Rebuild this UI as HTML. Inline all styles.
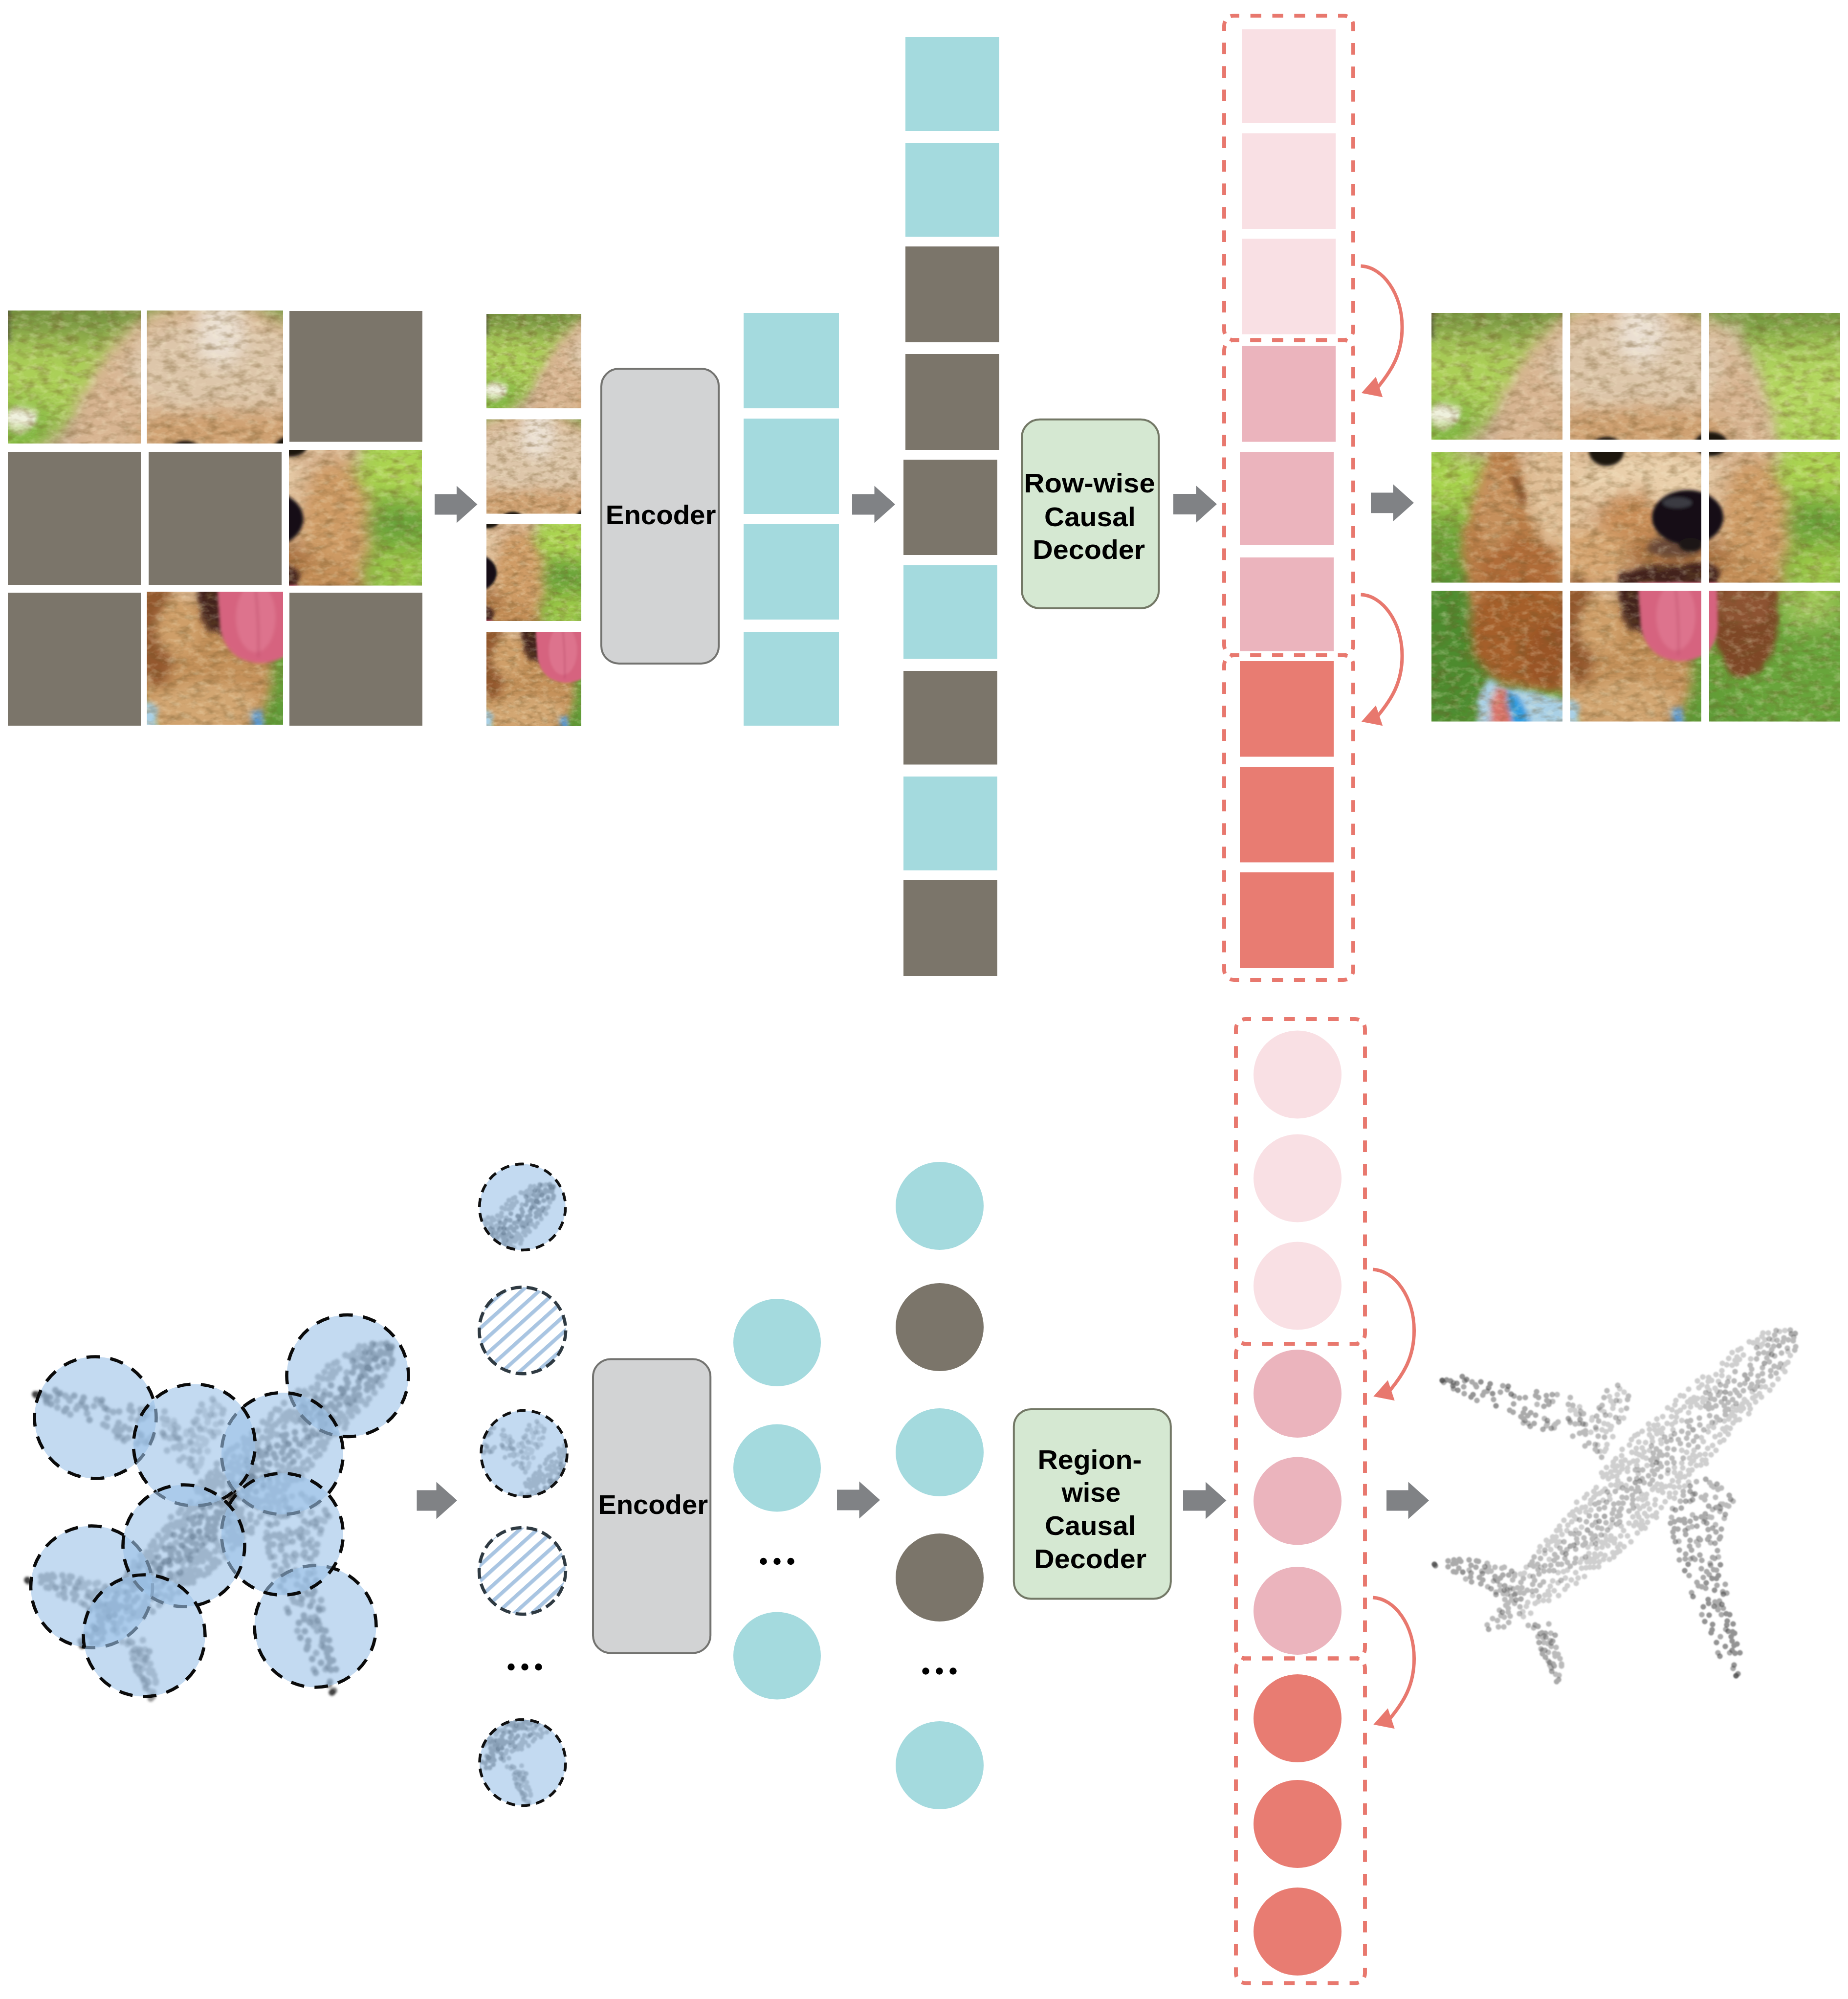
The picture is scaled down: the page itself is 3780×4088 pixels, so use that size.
<!DOCTYPE html>
<html><head><meta charset="utf-8"><title>Row-wise / Region-wise Causal Decoder</title>
<style>
html,body{margin:0;padding:0;background:#fff}
body{width:3780px;height:4088px;overflow:hidden}
svg{display:block}
text{font-family:"Liberation Sans",sans-serif;font-weight:700;fill:#000;text-anchor:middle}
</style></head><body>
<svg width="3780" height="4088" viewBox="0 0 3780 4088">
<defs>
<linearGradient id="dgbg" x1="0" y1="0" x2="0" y2="1"><stop offset="0" stop-color="#6d8c3d"/><stop offset="0.045" stop-color="#7f9f43"/><stop offset="0.11" stop-color="#a6cc55"/><stop offset="0.42" stop-color="#a0cc4e"/><stop offset="0.62" stop-color="#74ac3b"/><stop offset="1" stop-color="#5c9836"/></linearGradient><filter id="db30" x="-30%" y="-30%" width="160%" height="160%"><feGaussianBlur stdDeviation="30"/></filter><filter id="db16" x="-30%" y="-30%" width="160%" height="160%"><feGaussianBlur stdDeviation="16"/></filter><filter id="db10" x="-30%" y="-30%" width="160%" height="160%"><feGaussianBlur stdDeviation="10"/></filter><filter id="db6" x="-30%" y="-30%" width="160%" height="160%"><feGaussianBlur stdDeviation="6"/></filter><filter id="db3" x="-30%" y="-30%" width="160%" height="160%"><feGaussianBlur stdDeviation="3"/></filter><filter id="db15" x="-30%" y="-30%" width="160%" height="160%"><feGaussianBlur stdDeviation="1.5"/></filter><filter id="dwarp" x="-5%" y="-5%" width="110%" height="110%"><feTurbulence type="fractalNoise" baseFrequency="0.022" numOctaves="2" seed="11" result="n"/><feDisplacementMap in="SourceGraphic" in2="n" scale="16" xChannelSelector="R" yChannelSelector="G"/></filter><filter id="dtexd" x="0" y="0" width="100%" height="100%"><feTurbulence type="fractalNoise" baseFrequency="0.035 0.07" numOctaves="3" seed="4" result="n"/><feColorMatrix in="n" type="matrix" values="0 0 0 0 0.16  0 0 0 0 0.09  0 0 0 0 0.02  1.0 0 0 0 -0.44"/></filter><filter id="dtexl" x="0" y="0" width="100%" height="100%"><feTurbulence type="fractalNoise" baseFrequency="0.05 0.08" numOctaves="3" seed="23" result="n"/><feColorMatrix in="n" type="matrix" values="0 0 0 0 1  0 0 0 0 0.95  0 0 0 0 0.7  0 0.7 0 0 -0.33"/></filter><g id="dog"><g filter="url(#dwarp)"><rect x="-40" y="-40" width="920" height="920" fill="url(#dgbg)"/><g filter="url(#db30)"><ellipse cx="735" cy="150" rx="150" ry="100" fill="#b3d75e"/><ellipse cx="700" cy="16" rx="220" ry="20" fill="#6b8f3d"/><ellipse cx="700" cy="70" rx="200" ry="12" fill="#88ad49"/><ellipse cx="120" cy="16" rx="200" ry="18" fill="#6c893c"/><ellipse cx="110" cy="52" rx="120" ry="12" fill="#86994a"/><ellipse cx="95" cy="125" rx="130" ry="70" fill="#acd059"/><ellipse cx="30" cy="235" rx="75" ry="55" fill="#7db23f"/><ellipse cx="40" cy="340" rx="70" ry="60" fill="#a8d44e"/><ellipse cx="30" cy="480" rx="60" ry="70" fill="#6aa239"/><ellipse cx="35" cy="700" rx="110" ry="170" fill="#4d8b2f"/><ellipse cx="795" cy="320" rx="70" ry="50" fill="#aed751"/><ellipse cx="785" cy="430" rx="90" ry="50" fill="#65a037"/><ellipse cx="795" cy="520" rx="70" ry="40" fill="#a5d049"/><ellipse cx="760" cy="735" rx="130" ry="130" fill="#68a53a"/><ellipse cx="775" cy="600" rx="60" ry="28" fill="#b6d76b"/></g><g filter="url(#db16)"><polygon points="262,34 340,30 340,300 40,300 92,245 185,135" fill="#c6a98e"/><polygon points="560,20 625,20 668,120 715,300 560,300" fill="#cdbb9c"/></g><g filter="url(#db16)"><ellipse cx="414" cy="300" rx="286" ry="335" fill="#d8b592"/><ellipse cx="420" cy="105" rx="185" ry="95" fill="#ddc6aa"/><ellipse cx="428" cy="30" rx="46" ry="75" fill="#ebe0d3"/><ellipse cx="430" cy="238" rx="175" ry="50" fill="#cfa172"/><ellipse cx="250" cy="385" rx="70" ry="120" fill="#e0be96"/><ellipse cx="440" cy="340" rx="150" ry="60" fill="#e9cfab"/><ellipse cx="410" cy="425" rx="70" ry="60" fill="#c98e58"/><ellipse cx="330" cy="500" rx="80" ry="60" fill="#d5a470"/><ellipse cx="660" cy="440" rx="72" ry="145" fill="#cf9c66"/><ellipse cx="505" cy="498" rx="115" ry="40" fill="#a9713f"/><ellipse cx="645" cy="545" rx="80" ry="40" fill="#c48f58"/></g><g filter="url(#db10)"><path d="M118 280L170 276Q190 340 188 380Q215 450 262 536L300 600L300 770L200 772L118 748L86 683L72 568L62 463L92 353Z" fill="#b97d47"/><ellipse cx="130" cy="400" rx="40" ry="90" fill="#c6905b"/><ellipse cx="185" cy="520" rx="80" ry="60" fill="#b06c38"/><ellipse cx="190" cy="655" rx="110" ry="110" fill="#a55f2c"/><ellipse cx="250" cy="700" rx="60" ry="70" fill="#9a5527"/><ellipse cx="400" cy="740" rx="135" ry="150" fill="#c4915a"/><ellipse cx="300" cy="650" rx="40" ry="110" fill="#94592f"/><ellipse cx="400" cy="800" rx="110" ry="50" fill="#d2a672"/><ellipse cx="345" cy="640" rx="45" ry="60" fill="#cf9f69"/></g><g filter="url(#db6)"><path d="M172 330Q190 360 190 385L180 388Q176 360 164 336Z" fill="#7d4a25"/><path d="M570 556L704 556Q715 640 690 710Q650 765 610 735Q575 680 570 620Z" fill="#7e4626"/><ellipse cx="640" cy="600" rx="55" ry="40" fill="#8d5330"/><path d="M384 530Q470 508 560 512L590 530L575 566L440 575L438 660L404 645L384 590Z" fill="#43221a"/><ellipse cx="500" cy="478" rx="60" ry="22" fill="#6b4a38"/><polygon points="97,790 118,750 150,762 205,776 268,792 300,800 300,870 92,870" fill="#a9d0e6"/><polygon points="110,870 134,764 150,764 166,870" fill="#d9756a"/><polygon points="150,766 184,786 214,870 168,870" fill="#2f9be0"/><polygon points="490,812 514,806 518,870 486,870" fill="#5b9bd5"/><ellipse cx="28" cy="208" rx="30" ry="24" fill="#eff1de"/><ellipse cx="22" cy="228" rx="22" ry="12" fill="#cfe0a8"/><rect x="-4" y="-20" width="10" height="72" fill="#4b4935"/></g></g><rect x="-20" y="-20" width="880" height="880" filter="url(#dtexd)"/><rect x="-20" y="-20" width="880" height="880" filter="url(#dtexl)"/><g filter="url(#db3)"><path d="M422 552L584 552L586 640Q582 712 504 712Q440 706 428 640Z" fill="#d6637f"/><ellipse cx="500" cy="620" rx="40" ry="70" fill="#e07b93" opacity="0.7"/><path d="M500 566Q507 640 505 700" stroke="#b94a69" stroke-width="4" fill="none" opacity="0.55"/><ellipse cx="524" cy="418" rx="73" ry="56" fill="#121013"/><ellipse cx="503" cy="388" rx="30" ry="11" fill="#3a3a42"/><ellipse cx="530" cy="474" rx="24" ry="14" fill="#1f1512"/><ellipse cx="358" cy="283" rx="36" ry="30" fill="#1b1310"/><ellipse cx="572" cy="268" rx="34" ry="25" fill="#1b1310"/><ellipse cx="352" cy="270" rx="10" ry="6" fill="#5a5e66"/></g></g>
<filter id="pb1" x="-5%" y="-5%" width="110%" height="110%"><feGaussianBlur stdDeviation="1.3"/></filter><filter id="pb3" x="-5%" y="-5%" width="110%" height="110%"><feGaussianBlur stdDeviation="1.5"/><feComponentTransfer><feFuncA type="linear" slope="1.15"/></feComponentTransfer></filter><filter id="pb2" x="-5%" y="-5%" width="110%" height="110%"><feGaussianBlur stdDeviation="2.1"/><feComponentTransfer><feFuncA type="linear" slope="1.15"/></feComponentTransfer></filter><g id="planeW" fill="none" stroke-linecap="round"><path d="M357 239h0M391 185h0M281 190h0M351 172h0M300 178h0M291 169h0M352 253h0M355 213h0M364 208h0M383 125h0M347 209h0M324 214h0M369 165h0M335 208h0M344 168h0M294 177h0M392 132h0M282 169h0M351 196h0M369 223h0M327 184h0M386 169h0M383 150h0M338 240h0M355 248h0M365 150h0M343 253h0M370 157h0M363 179h0M301 162h0M366 202h0M359 198h0M362 141h0M326 189h0M383 185h0M378 137h0M159 532h0" stroke-opacity="0.27"/><path d="M214 157h0M287 222h0M347 159h0M246 151h0M233 201h0M376 149h0M313 218h0M401 140h0M303 171h0M235 196h0M313 198h0M339 222h0M333 239h0M334 204h0M313 211h0M257 193h0M357 129h0M287 159h0M320 236h0M309 176h0M255 137h0M397 165h0M282 143h0M337 253h0M292 197h0M341 164h0M399 147h0M196 196h0M312 242h0M301 216h0M379 118h0M282 194h0M249 205h0M352 224h0M229 186h0M381 193h0M354 179h0M278 157h0M249 200h0M186 195h0M336 181h0M375 184h0M346 265h0M300 196h0M305 176h0M308 214h0M252 197h0M351 143h0M333 249h0M340 191h0M504 437h0M557 352h0M573 372h0M540 438h0M571 388h0M571 323h0M585 469h0M606 365h0M590 361h0M615 355h0M568 482h0M559 343h0M540 315h0M528 473h0M531 407h0M489 388h0M588 376h0M523 410h0M594 361h0M575 326h0M601 363h0M532 383h0M544 445h0M566 387h0M550 347h0M597 390h0M584 331h0M569 440h0M527 355h0M507 355h0M591 328h0M513 335h0M579 347h0M579 403h0M567 317h0M513 343h0M533 341h0M555 397h0M491 370h0M125 518h0M68 514h0M145 544h0M120 498h0M153 536h0M113 530h0M114 499h0M101 498h0M108 497h0M128 490h0M164 516h0M130 541h0M139 537h0M75 496h0M138 527h0M168 508h0M168 504h0M168 546h0M147 490h0M142 492h0M112 482h0M115 489h0M153 545h0M228 630h0M243 652h0M237 664h0M240 690h0M216 632h0M228 644h0M241 640h0M226 634h0M238 606h0M264 688h0M196 609h0M264 692h0M259 711h0M252 709h0M222 657h0M243 696h0M253 654h0M207 614h0M261 677h0M237 682h0M236 646h0M251 672h0M250 666h0M257 668h0M242 625h0" stroke-opacity="0.38"/><path d="M186 186h0M226 208h0M186 174h0M238 151h0M211 179h0M66 109h0M208 196h0M90 121h0M139 132h0M166 156h0M228 161h0M65 135h0M245 137h0M153 127h0M195 180h0M43 113h0M106 132h0M233 139h0M125 147h0M167 140h0M201 174h0M91 149h0M190 143h0M81 111h0M64 121h0M178 144h0M238 157h0M181 182h0M211 139h0M234 149h0M213 131h0M144 119h0M243 206h0M200 202h0M158 169h0M88 117h0M103 138h0M217 143h0M302 188h0M112 130h0M189 166h0M165 173h0M235 190h0M278 186h0M43 125h0M189 190h0M308 197h0M23 112h0M504 393h0M505 475h0M600 617h0M587 432h0M541 406h0M495 411h0M573 410h0M539 390h0M584 577h0M541 521h0M577 472h0M547 465h0M525 507h0M537 340h0M561 400h0M559 310h0M565 365h0M587 559h0M583 456h0M533 471h0M545 431h0M602 543h0M557 392h0M558 381h0M581 496h0M487 400h0M518 423h0M550 493h0M530 542h0M575 495h0M589 632h0M561 499h0M578 441h0M526 447h0M599 525h0M566 505h0M583 562h0M505 455h0M516 399h0M578 561h0M608 665h0M591 587h0M551 530h0M544 528h0M517 473h0M569 486h0M527 435h0M527 324h0M615 697h0M595 574h0M554 511h0M550 387h0M589 428h0M537 474h0M508 394h0M584 665h0M517 415h0M502 412h0M515 392h0M559 533h0M527 396h0M492 418h0M518 355h0M573 470h0M564 413h0M582 527h0M509 369h0M495 397h0M582 320h0M551 587h0M580 418h0M591 412h0M532 352h0M610 351h0M585 568h0M497 373h0M548 434h0M493 428h0M607 343h0M563 433h0M589 370h0M594 540h0M599 382h0M518 463h0M586 366h0M580 368h0M530 455h0M527 335h0M497 438h0M566 428h0M551 476h0M102 503h0M78 510h0M147 537h0M55 474h0M48 500h0M43 499h0M58 478h0M54 492h0M42 483h0M89 490h0M130 546h0M148 528h0M133 518h0M32 477h0M107 489h0M79 486h0M48 482h0M129 514h0M144 506h0M79 502h0M103 516h0M44 475h0M156 506h0M128 509h0M120 534h0M96 511h0M80 520h0M94 478h0M75 475h0M139 512h0M162 498h0M32 489h0M90 477h0M99 524h0M254 724h0M244 703h0M231 625h0M220 626h0M258 720h0M251 629h0M240 685h0M225 660h0M231 674h0M230 660h0M218 644h0M247 688h0M232 633h0M210 608h0M225 667h0M224 624h0M249 692h0M243 645h0M216 611h0M246 641h0" stroke-opacity="0.48"/><path d="M161 136h0M83 137h0M37 109h0M29 107h0M50 114h0M115 123h0M79 142h0M61 100h0M99 111h0M118 115h0M52 128h0M42 119h0M130 160h0M155 120h0M70 106h0M123 135h0M617 650h0M605 621h0M592 566h0M599 652h0M595 545h0M516 497h0M611 632h0M615 606h0M533 550h0M613 660h0M619 666h0M573 607h0M572 618h0M629 665h0M588 672h0M613 641h0M565 564h0M603 600h0M618 625h0M625 708h0M554 571h0M589 485h0M570 624h0M564 556h0M572 513h0M617 690h0M581 644h0M576 570h0M601 585h0M581 513h0M577 537h0M614 622h0M608 587h0M560 522h0M602 608h0M623 647h0M523 484h0M566 588h0M557 601h0M585 507h0M62 500h0M6 487h0" stroke-opacity="0.6"/><path d="M621 712h0M20 108h0M4 484h0" stroke-opacity="0.85"/></g><g id="planeF" fill="none" stroke-linecap="round"><path d="M432 365h0M440 398h0M427 411h0M602 204h0M260 438h0M272 512h0M489 182h0M220 448h0M500 173h0M573 241h0M480 196h0M508 306h0M665 25h0M305 492h0M638 147h0M510 277h0M545 123h0M564 110h0M349 353h0M524 126h0M322 490h0M516 324h0M241 529h0M655 144h0M613 77h0M365 426h0M727 71h0M460 320h0M437 267h0M580 251h0M510 251h0M491 313h0M625 46h0M444 371h0M382 296h0M391 415h0M346 297h0M316 341h0M336 451h0M621 189h0M456 352h0M522 152h0M528 147h0M455 326h0M561 147h0M348 335h0M575 204h0M636 56h0M364 435h0M195 562h0M471 206h0M408 255h0M429 246h0M681 121h0M230 547h0M562 121h0M285 397h0M268 499h0M227 558h0M606 102h0M386 274h0M276 496h0M471 337h0M505 326h0M550 225h0M687 11h0M316 479h0M661 140h0M246 428h0M365 295h0M275 415h0M284 516h0M542 145h0M423 404h0M458 388h0M421 350h0M664 32h0M565 202h0M321 472h0M535 143h0M547 260h0M507 169h0M237 539h0M417 257h0M571 108h0M337 468h0M721 6h0M582 130h0M542 109h0M239 547h0M430 352h0M549 281h0M533 260h0M579 194h0M578 223h0M369 283h0M540 282h0M537 151h0M485 339h0M347 449h0M364 408h0M450 331h0M651 64h0M311 509h0M588 234h0M394 271h0M486 323h0M481 298h0M553 144h0M623 60h0M497 338h0M340 489h0M469 216h0M444 219h0M558 259h0M440 360h0M444 208h0M258 548h0M609 206h0M260 406h0M306 473h0M471 182h0M218 458h0M410 387h0M330 347h0M436 235h0M512 287h0M416 398h0M430 264h0M421 299h0M294 523h0M429 212h0M628 188h0M516 305h0M335 327h0M721 75h0M385 426h0M675 34h0M552 271h0M419 365h0M249 538h0M433 254h0M560 278h0M302 480h0M399 294h0M386 406h0M326 442h0M293 501h0M495 286h0M243 437h0M669 135h0M254 446h0M455 362h0M306 368h0M362 343h0M455 209h0M515 162h0M468 237h0M634 156h0M353 330h0M158 537h0M450 233h0M353 440h0M346 439h0M314 377h0M551 117h0M464 210h0M417 247h0M414 221h0M524 292h0M490 198h0M188 502h0M388 289h0M407 229h0M399 426h0M613 51h0M615 162h0M707 105h0M622 74h0M238 558h0M631 43h0M363 351h0M422 234h0M656 31h0M402 400h0M242 454h0M373 432h0M301 377h0M331 479h0M423 260h0M462 333h0M185 581h0M495 296h0M281 383h0M287 377h0M498 149h0M295 357h0M439 282h0M222 490h0M507 298h0M499 183h0M490 168h0M387 262h0M271 535h0M388 249h0M477 325h0M631 170h0M622 169h0M253 428h0M606 63h0M580 96h0M494 326h0M520 255h0M530 153h0M716 84h0M613 173h0M293 414h0M239 474h0M318 449h0M592 98h0M381 327h0M565 102h0M501 304h0M378 283h0M403 277h0M534 272h0M461 199h0M298 512h0M727 49h0M593 73h0M654 131h0M721 90h0M605 218h0M732 57h0M514 140h0M368 304h0M615 195h0M564 213h0M311 348h0M650 166h0M618 181h0M186 591h0M251 436h0M210 564h0M246 518h0M676 11h0M313 367h0M365 322h0M344 463h0M428 395h0M503 315h0M481 164h0M671 39h0M269 394h0M192 570h0M476 356h0M356 433h0M372 440h0M379 313h0M710 8h0M449 225h0M696 25h0M548 163h0M648 158h0M528 162h0M277 404h0M531 291h0M459 187h0M526 267h0M609 181h0M599 212h0M369 460h0M507 139h0M444 251h0M696 117h0M636 165h0M566 128h0M628 65h0M553 152h0M553 101h0M261 414h0M337 434h0M388 281h0M418 282h0M257 501h0M428 341h0M360 309h0M411 273h0M492 209h0M386 320h0M374 292h0M383 457h0M330 490h0M422 387h0M424 370h0M619 67h0M324 373h0M330 335h0M453 200h0M435 410h0M496 158h0M674 18h0M497 193h0M379 449h0M320 462h0M205 548h0M468 368h0M438 341h0M436 349h0M420 218h0M295 372h0M602 76h0M643 152h0M592 88h0M606 187h0M458 379h0M690 128h0M585 110h0M314 491h0M332 463h0M525 300h0M559 271h0M356 286h0M468 321h0M353 466h0M290 386h0M265 423h0M627 162h0M399 287h0M323 479h0M236 445h0M233 435h0M370 275h0M201 584h0M570 260h0M430 403h0M528 278h0M488 222h0M192 490h0M341 479h0M257 522h0M276 528h0M305 408h0M384 443h0M596 230h0M541 158h0M406 438h0M597 191h0M403 240h0M434 380h0M594 207h0M254 415h0M524 316h0M442 197h0M353 425h0M524 174h0M323 360h0M377 460h0M450 385h0M588 219h0M510 190h0M324 353h0M342 339h0M335 341h0M539 264h0M554 233h0M578 124h0M349 305h0M648 29h0M419 272h0M359 446h0M419 380h0M412 405h0M392 448h0M673 142h0M294 391h0M563 247h0M647 176h0M377 304h0M230 462h0M356 300h0M495 349h0M362 474h0M375 268h0M419 420h0M439 386h0M396 323h0M485 346h0M469 329h0M672 121h0M467 230h0M661 152h0M180 504h0M371 469h0M459 217h0M350 474h0M216 560h0M368 400h0M331 472h0M535 251h0M199 508h0M680 25h0M375 322h0" stroke-opacity="0.27"/><path d="M397 348h0M605 167h0M617 109h0M465 278h0M230 455h0M133 599h0M333 426h0M507 237h0M300 421h0M687 53h0M714 52h0M293 453h0M450 312h0M467 305h0M452 257h0M699 79h0M547 199h0M335 385h0M447 271h0M675 82h0M261 451h0M700 58h0M147 592h0M448 242h0M137 578h0M208 469h0M155 563h0M480 260h0M577 147h0M589 117h0M170 544h0M546 185h0M221 472h0M249 476h0M423 334h0M604 111h0M140 589h0M445 320h0M204 479h0M415 291h0M636 129h0M209 517h0M468 284h0M619 128h0M358 414h0M327 404h0M186 513h0M639 114h0M528 190h0M352 368h0M588 189h0M250 464h0M572 194h0M346 411h0M389 328h0M591 152h0M739 20h0M338 409h0M614 147h0M728 25h0M327 432h0M659 126h0M565 166h0M161 549h0M559 161h0M482 291h0M340 358h0M689 23h0M308 445h0M212 538h0M565 156h0M470 261h0M454 300h0M619 90h0M313 469h0M283 421h0M181 521h0M703 93h0M743 39h0M398 333h0M295 432h0M605 153h0M651 95h0M368 380h0M206 509h0M179 571h0M580 160h0M458 248h0M341 371h0M290 422h0M694 45h0M187 543h0M356 357h0M275 454h0M384 384h0M609 135h0M572 164h0M666 99h0M178 585h0M684 62h0M692 88h0M402 375h0M248 497h0M503 229h0M374 335h0M570 145h0M442 303h0M450 293h0M581 183h0M597 160h0M269 438h0M555 209h0M559 133h0M430 291h0M741 46h0M705 26h0M358 336h0M708 81h0M650 123h0M291 481h0M433 317h0M200 485h0M155 574h0M520 226h0M355 399h0M678 51h0M271 472h0M386 370h0M495 217h0M315 397h0M623 133h0M465 254h0M293 472h0M521 192h0M599 178h0M676 109h0M165 534h0M112 608h0M409 343h0M490 267h0M257 484h0M666 111h0M333 361h0M334 442h0M155 582h0M719 21h0M524 240h0M179 542h0M324 421h0M717 29h0M481 247h0M409 361h0M220 527h0M420 327h0M276 480h0M381 359h0M513 267h0M510 212h0M689 70h0M629 117h0M712 74h0M540 223h0M422 291h0M390 359h0M534 232h0M663 41h0M459 269h0M523 216h0M205 525h0M135 612h0M692 99h0M460 290h0M301 393h0M429 309h0M264 484h0M242 486h0M310 430h0M403 310h0M230 487h0M227 520h0M452 266h0M628 139h0M494 276h0M218 504h0M568 137h0M282 488h0M407 329h0M663 64h0M255 470h0M732 5h0M377 402h0M371 361h0M480 277h0M410 352h0M703 6h0M382 376h0M183 532h0M416 335h0M600 119h0M174 532h0M150 568h0M159 590h0M148 556h0M383 397h0M321 385h0M207 488h0M621 155h0M296 440h0M228 498h0M313 440h0M146 612h0M266 460h0M215 484h0M263 517h0M216 495h0M488 230h0M378 386h0M700 15h0M334 398h0M726 42h0M156 603h0M464 261h0M698 38h0M475 224h0M204 539h0M479 233h0M218 550h0M450 281h0M650 77h0M162 557h0M738 27h0M567 180h0M194 537h0M371 372h0M664 120h0M686 36h0M599 170h0M418 309h0M543 244h0M653 116h0M239 497h0M525 202h0M123 595h0M168 564h0M667 53h0M653 85h0M368 392h0M494 249h0M345 424h0M411 369h0M388 347h0M585 138h0M675 94h0M589 132h0" stroke-opacity="0.38"/><path d="M317 414h0M533 209h0M734 13h0M289 445h0M181 555h0M599 132h0M694 55h0M115 617h0M341 396h0M171 557h0M143 582h0M282 447h0M598 145h0M273 463h0M709 37h0M424 314h0M639 97h0M458 276h0M415 317h0M644 105h0M352 386h0M742 12h0M679 73h0" stroke-opacity="0.48"/></g><filter id="pf2" x="-5%" y="-5%" width="110%" height="110%"><feGaussianBlur stdDeviation="2.1"/><feComponentTransfer><feFuncA type="linear" slope="1.85"/></feComponentTransfer></filter><filter id="pf3" x="-5%" y="-5%" width="110%" height="110%"><feGaussianBlur stdDeviation="1.5"/><feComponentTransfer><feFuncA type="linear" slope="1.85"/></feComponentTransfer></filter><pattern id="hatch" patternUnits="userSpaceOnUse" width="24" height="24" patternTransform="rotate(-42)"><rect width="24" height="24" fill="#fff"/><rect y="8" width="24" height="7.6" fill="#a9c5e2"/></pattern><clipPath id="sc1"><circle cx="1068.7" cy="2468.4" r="88"/></clipPath><clipPath id="sc3"><circle cx="1072" cy="2972.5" r="88"/></clipPath><clipPath id="sc5"><circle cx="1069" cy="3604.5" r="88"/></clipPath>
</defs>
<rect width="3780" height="4088" fill="#fff"/>
<g id="toprow">
<rect x="592" y="636" width="272" height="267.5" fill="#7b756a"/>
<rect x="16" y="924" width="272" height="272" fill="#7b756a"/>
<rect x="304" y="924" width="272" height="272" fill="#7b756a"/>
<rect x="16" y="1212" width="272" height="272" fill="#7b756a"/>
<rect x="592" y="1212" width="272" height="272" fill="#7b756a"/>
<svg x="16" y="635" width="272" height="272" viewBox="0 -9 268 268" preserveAspectRatio="none"><use href="#dog"/></svg>
<svg x="300.5" y="635" width="278.5" height="272" viewBox="281 -9 274 268" preserveAspectRatio="none"><use href="#dog"/></svg>
<svg x="591" y="920" width="272" height="277.5" viewBox="568 279 268 273" preserveAspectRatio="none"><use href="#dog"/></svg>
<svg x="300.5" y="1210" width="278.5" height="272" viewBox="281 568 274 268" preserveAspectRatio="none"><use href="#dog"/></svg>
<svg x="995" y="642" width="194" height="193" viewBox="0 -7 268 266" preserveAspectRatio="none"><use href="#dog"/></svg>
<svg x="995" y="857.5" width="194" height="193" viewBox="284 -7 268 266" preserveAspectRatio="none"><use href="#dog"/></svg>
<svg x="995" y="1072" width="194" height="198" viewBox="568 281 268 273" preserveAspectRatio="none"><use href="#dog"/></svg>
<svg x="995" y="1292" width="194" height="193" viewBox="284 568 268 267" preserveAspectRatio="none"><use href="#dog"/></svg>
<path d="M889 1010.6H934V993.5L976.5 1031.5L934 1069.5V1052.4H889Z" fill="#808285"/>
<rect x="1230" y="754" width="240.2" height="603" rx="36" fill="#d2d3d4" stroke="#737370" stroke-width="4"/>
<text transform="translate(1351.6 1071.5) scale(1.007 1)" font-size="56">Encoder</text>
<rect x="1521" y="640" width="195" height="195" fill="#a4dade"/>
<rect x="1521" y="856" width="195" height="195" fill="#a4dade"/>
<rect x="1521" y="1072" width="195" height="195" fill="#a4dade"/>
<rect x="1521" y="1292" width="195" height="192" fill="#a4dade"/>
<path d="M1743 1010.6H1788.5V993.5L1831 1031.5L1788.5 1069.5V1052.4H1743Z" fill="#808285"/>
<rect x="1852" y="76" width="192" height="192" fill="#a4dade"/>
<rect x="1852" y="292" width="192" height="192" fill="#a4dade"/>
<rect x="1852" y="504" width="192" height="196" fill="#7b756a"/>
<rect x="1852" y="724" width="192" height="196" fill="#7b756a"/>
<rect x="1848" y="940" width="192" height="195" fill="#7b756a"/>
<rect x="1848" y="1156" width="192" height="191.5" fill="#a4dade"/>
<rect x="1848" y="1372" width="192" height="191.5" fill="#7b756a"/>
<rect x="1848" y="1588" width="192" height="192" fill="#a4dade"/>
<rect x="1848" y="1800" width="192" height="196" fill="#7b756a"/>
<rect x="2090" y="857.7" width="280.3" height="386.4" rx="37" fill="#d5e8d2" stroke="#737866" stroke-width="4"/>
<text transform="translate(2228.6 1007.3) scale(1.039 1)" font-size="56">Row-wise</text>
<text transform="translate(2229.4 1075.8) scale(1.0165 1)" font-size="56">Causal</text>
<text transform="translate(2227.2 1143.4) scale(1.0253 1)" font-size="56">Decoder</text>
<path d="M2400 1010.1H2446.5V993L2489 1031L2446.5 1069V1051.9H2400Z" fill="#808285"/>
<rect x="2540" y="60" width="192" height="192" fill="#f9e0e4"/>
<rect x="2540" y="272.5" width="192" height="195.5" fill="#f9e0e4"/>
<rect x="2540" y="488" width="192" height="195.5" fill="#f9e0e4"/>
<rect x="2540" y="707.5" width="192" height="196" fill="#ebb4bd"/>
<rect x="2536" y="924" width="192" height="191" fill="#ebb4bd"/>
<rect x="2536" y="1140" width="192" height="191.5" fill="#ebb4bd"/>
<rect x="2536" y="1352" width="192" height="195.5" fill="#e87c72"/>
<rect x="2536" y="1568" width="192" height="195.5" fill="#e87c72"/>
<rect x="2536" y="1784" width="192" height="196" fill="#e87c72"/>
<path d="M2524 32H2748A20 20 0 0 1 2768 52V675.5A20 20 0 0 1 2748 695.5H2524A20 20 0 0 1 2504 675.5V52A20 20 0 0 1 2524 32" fill="none" stroke="#e8786e" stroke-width="7.9" stroke-dasharray="11.00 22.64 22.20 22.64 22.20 22.64 22.20 22.64 22.20 22.64 19.00 15.42 19.60 24.30 23.70 24.30 23.70 24.30 23.70 24.30 23.70 24.30 23.70 24.30 23.70 24.30 23.70 24.30 23.70 24.30 23.70 24.30 23.70 24.30 23.70 24.30 23.70 24.30 19.60 15.42 19.00 22.64 22.20 22.64 22.20 22.64 22.20 22.64 22.20 22.64 19.00 15.42 19.60 24.30 23.70 24.30 23.70 24.30 23.70 24.30 23.70 24.30 23.70 24.30 23.70 24.30 23.70 24.30 23.70 24.30 23.70 24.30 23.70 24.30 23.70 24.30 23.70 24.30 19.60 15.42 8.00 1000.00"/>
<path d="M2524 695.5H2748A20 20 0 0 1 2768 715.5V1320A20 20 0 0 1 2748 1340H2524A20 20 0 0 1 2504 1320V715.5A20 20 0 0 1 2524 695.5" fill="none" stroke="#e8786e" stroke-width="7.9" stroke-dasharray="11.00 22.64 22.20 22.64 22.20 22.64 22.20 22.64 22.20 22.64 19.00 15.42 19.60 22.84 23.70 22.84 23.70 22.84 23.70 22.84 23.70 22.84 23.70 22.84 23.70 22.84 23.70 22.84 23.70 22.84 23.70 22.84 23.70 22.84 23.70 22.84 23.70 22.84 19.60 15.42 19.00 22.64 22.20 22.64 22.20 22.64 22.20 22.64 22.20 22.64 19.00 15.42 19.60 22.84 23.70 22.84 23.70 22.84 23.70 22.84 23.70 22.84 23.70 22.84 23.70 22.84 23.70 22.84 23.70 22.84 23.70 22.84 23.70 22.84 23.70 22.84 23.70 22.84 19.60 15.42 8.00 1000.00"/>
<path d="M2524 1340H2748A20 20 0 0 1 2768 1360V1984A20 20 0 0 1 2748 2004H2524A20 20 0 0 1 2504 1984V1360A20 20 0 0 1 2524 1340" fill="none" stroke="#e8786e" stroke-width="7.9" stroke-dasharray="11.00 22.64 22.20 22.64 22.20 22.64 22.20 22.64 22.20 22.64 19.00 15.42 19.60 24.34 23.70 24.34 23.70 24.34 23.70 24.34 23.70 24.34 23.70 24.34 23.70 24.34 23.70 24.34 23.70 24.34 23.70 24.34 23.70 24.34 23.70 24.34 23.70 24.34 19.60 15.42 19.00 22.64 22.20 22.64 22.20 22.64 22.20 22.64 22.20 22.64 19.00 15.42 19.60 24.34 23.70 24.34 23.70 24.34 23.70 24.34 23.70 24.34 23.70 24.34 23.70 24.34 23.70 24.34 23.70 24.34 23.70 24.34 23.70 24.34 23.70 24.34 23.70 24.34 19.60 15.42 8.00 1000.00"/>
<g transform="translate(0 0)" fill="none" stroke="#e8786e" stroke-width="7"><path d="M2783.5 544C2828 546 2868 600 2868 669C2868 724 2846 758 2819 791"/><path d="M2784.8 803.7L2814.3 770.4L2828.2 812.2Z" fill="#e8786e" stroke="none"/></g>
<g transform="translate(0 672)" fill="none" stroke="#e8786e" stroke-width="7"><path d="M2783.5 544C2828 546 2868 600 2868 669C2868 724 2846 758 2819 791"/><path d="M2784.8 803.7L2814.3 770.4L2828.2 812.2Z" fill="#e8786e" stroke="none"/></g>
<path d="M2804 1007.4H2849.5V990.3L2892 1028.3L2849.5 1066.3V1049.2H2804Z" fill="#808285"/>
<svg x="2928" y="640" width="268" height="259" viewBox="0 0 268 259" preserveAspectRatio="none"><use href="#dog"/></svg>
<svg x="3212" y="640" width="268" height="259" viewBox="284 0 268 259" preserveAspectRatio="none"><use href="#dog"/></svg>
<svg x="3496" y="640" width="268" height="259" viewBox="568 0 268 259" preserveAspectRatio="none"><use href="#dog"/></svg>
<svg x="2928" y="924" width="268" height="267.5" viewBox="0 284 268 267.5" preserveAspectRatio="none"><use href="#dog"/></svg>
<svg x="3212" y="924" width="268" height="267.5" viewBox="284 284 268 267.5" preserveAspectRatio="none"><use href="#dog"/></svg>
<svg x="3496" y="924" width="268" height="267.5" viewBox="568 284 268 267.5" preserveAspectRatio="none"><use href="#dog"/></svg>
<svg x="2928" y="1208" width="268" height="267.5" viewBox="0 568 268 267.5" preserveAspectRatio="none"><use href="#dog"/></svg>
<svg x="3212" y="1208" width="268" height="267.5" viewBox="284 568 268 267.5" preserveAspectRatio="none"><use href="#dog"/></svg>
<svg x="3496" y="1208" width="268" height="267.5" viewBox="568 568 268 267.5" preserveAspectRatio="none"><use href="#dog"/></svg>
</g>
<g id="botrow">
<g stroke="#454545" stroke-width="13.5"><g filter="url(#pb2)"><use href="#planeW" transform="translate(51.80 2742.15) scale(1.01)"/></g><g filter="url(#pf2)"><use href="#planeF" transform="translate(51.80 2742.15) scale(1.01)"/></g></g><g fill="#9bc1e8" fill-opacity="0.6" stroke="#0a0a0a" stroke-width="6.6" stroke-dasharray="27.7 21.2"><circle cx="711" cy="2813.5" r="124.5" transform="rotate(37 711 2813.5)"/><circle cx="195" cy="2899" r="124.5" transform="rotate(14 195 2899)"/><circle cx="645" cy="3326" r="124.5" transform="rotate(33 645 3326)"/><circle cx="187.5" cy="3245" r="124.5" transform="rotate(19 187.5 3245)"/><circle cx="577.5" cy="2972.5" r="124.5" transform="rotate(28 577.5 2972.5)"/><circle cx="577.5" cy="3137.5" r="124.5" transform="rotate(5 577.5 3137.5)"/><circle cx="397.5" cy="2955" r="124.5" transform="rotate(51 397.5 2955)"/><circle cx="376" cy="3161" r="124.5" transform="rotate(42 376 3161)"/><circle cx="295" cy="3345" r="124.5" transform="rotate(56 295 3345)"/></g>
<path d="M852.5 3047.6H892.5V3030.5L935 3068.5L892.5 3106.5V3089.4H852.5Z" fill="#808285"/>
<g clip-path="url(#sc1)" stroke="#454545" stroke-width="14"><g filter="url(#pb3)"><use href="#planeW" transform="translate(607.26 2418.45) scale(0.7070)"/></g><g filter="url(#pf3)"><use href="#planeF" transform="translate(607.26 2418.45) scale(0.7070)"/></g></g><circle cx="1068.7" cy="2468.4" r="88" fill="#9bc1e8" fill-opacity="0.6" stroke="#101010" stroke-width="5.6" stroke-dasharray="18 12.7"/><g clip-path="url(#sc3)" stroke="#454545" stroke-width="14"><g filter="url(#pb3)"><use href="#planeW" transform="translate(830.01 2823.51) scale(0.7070)"/></g><g filter="url(#pf3)"><use href="#planeF" transform="translate(830.01 2823.51) scale(0.7070)"/></g></g><circle cx="1072" cy="2972.5" r="88" fill="#9bc1e8" fill-opacity="0.6" stroke="#101010" stroke-width="5.6" stroke-dasharray="18 12.7"/><g clip-path="url(#sc5)" stroke="#454545" stroke-width="14"><g filter="url(#pb3)"><use href="#planeW" transform="translate(898.76 3182.51) scale(0.7070)"/></g><g filter="url(#pf3)"><use href="#planeF" transform="translate(898.76 3182.51) scale(0.7070)"/></g></g><circle cx="1069" cy="3604.5" r="88" fill="#9bc1e8" fill-opacity="0.6" stroke="#101010" stroke-width="5.6" stroke-dasharray="18 12.7"/><circle cx="1068.7" cy="2720.8" r="88.5" fill="url(#hatch)" stroke="#2f3a42" stroke-width="6.5" stroke-dasharray="22 10.7"/><circle cx="1068.5" cy="3212.5" r="88.5" fill="url(#hatch)" stroke="#2f3a42" stroke-width="6.5" stroke-dasharray="22 10.7"/>
<rect x="1213" y="2779.5" width="240.2" height="601" rx="36" fill="#d2d3d4" stroke="#737370" stroke-width="4"/>
<text transform="translate(1335.6 3095.6) scale(1.004 1)" font-size="56">Encoder</text>
<circle cx="1589.5" cy="2745.5" r="89.5" fill="#a4dade"/>
<circle cx="1589.5" cy="3002" r="89.5" fill="#a4dade"/>
<circle cx="1589.5" cy="3386" r="89.5" fill="#a4dade"/>
<circle cx="1561.5" cy="3193" r="7.2" fill="#000"/>
<circle cx="1589.5" cy="3193" r="7.2" fill="#000"/>
<circle cx="1617.5" cy="3193" r="7.2" fill="#000"/>
<circle cx="1045.5" cy="3409" r="7.2" fill="#000"/>
<circle cx="1073.5" cy="3409" r="7.2" fill="#000"/>
<circle cx="1101.5" cy="3409" r="7.2" fill="#000"/>
<circle cx="1893.5" cy="3417.5" r="7.2" fill="#000"/>
<circle cx="1921.5" cy="3417.5" r="7.2" fill="#000"/>
<circle cx="1949.5" cy="3417.5" r="7.2" fill="#000"/>
<path d="M1712 3046.6H1757.5V3029.5L1800 3067.5L1757.5 3105.5V3088.4H1712Z" fill="#808285"/>
<circle cx="1922" cy="2466" r="90" fill="#a4dade"/>
<circle cx="1922" cy="2714" r="90" fill="#7b756a"/>
<circle cx="1922" cy="2970" r="90" fill="#a4dade"/>
<circle cx="1922" cy="3226" r="90" fill="#7b756a"/>
<circle cx="1922" cy="3610" r="90" fill="#a4dade"/>
<rect x="2073.8" y="2882" width="321" height="387.5" rx="35" fill="#d5e8d2" stroke="#737866" stroke-width="4"/>
<text transform="translate(2229 3003.5) scale(1.0226 1)" font-size="56">Region-</text>
<text transform="translate(2231.9 3071.2) scale(0.997 1)" font-size="56">wise</text>
<text transform="translate(2230.3 3139.3) scale(1.014 1)" font-size="56">Causal</text>
<text transform="translate(2230.2 3207.4) scale(1.0258 1)" font-size="56">Decoder</text>
<path d="M2420 3047.6H2466V3030.5L2508.5 3068.5L2466 3106.5V3089.4H2420Z" fill="#808285"/>
<circle cx="2654" cy="2197.5" r="90" fill="#f9e0e4"/>
<circle cx="2654" cy="2409.5" r="90" fill="#f9e0e4"/>
<circle cx="2654" cy="2629.5" r="90" fill="#f9e0e4"/>
<circle cx="2654" cy="2850" r="90" fill="#ebb4bd"/>
<circle cx="2654" cy="3069.5" r="90" fill="#ebb4bd"/>
<circle cx="2654" cy="3294" r="90" fill="#ebb4bd"/>
<circle cx="2654" cy="3514" r="90" fill="#e87c72"/>
<circle cx="2654" cy="3730" r="90" fill="#e87c72"/>
<circle cx="2654" cy="3950" r="90" fill="#e87c72"/>
<path d="M2548 2084H2772A20 20 0 0 1 2792 2104V2728A20 20 0 0 1 2772 2748H2548A20 20 0 0 1 2528 2728V2104A20 20 0 0 1 2548 2084" fill="none" stroke="#e8786e" stroke-width="7.9" stroke-dasharray="11.00 22.64 22.20 22.64 22.20 22.64 22.20 22.64 22.20 22.64 19.00 15.42 19.60 24.34 23.70 24.34 23.70 24.34 23.70 24.34 23.70 24.34 23.70 24.34 23.70 24.34 23.70 24.34 23.70 24.34 23.70 24.34 23.70 24.34 23.70 24.34 23.70 24.34 19.60 15.42 19.00 22.64 22.20 22.64 22.20 22.64 22.20 22.64 22.20 22.64 19.00 15.42 19.60 24.34 23.70 24.34 23.70 24.34 23.70 24.34 23.70 24.34 23.70 24.34 23.70 24.34 23.70 24.34 23.70 24.34 23.70 24.34 23.70 24.34 23.70 24.34 23.70 24.34 19.60 15.42 8.00 1000.00"/>
<path d="M2548 2748H2772A20 20 0 0 1 2792 2768V3371.5A20 20 0 0 1 2772 3391.5H2548A20 20 0 0 1 2528 3371.5V2768A20 20 0 0 1 2548 2748" fill="none" stroke="#e8786e" stroke-width="7.9" stroke-dasharray="11.00 22.64 22.20 22.64 22.20 22.64 22.20 22.64 22.20 22.64 19.00 15.42 19.60 22.76 23.70 22.76 23.70 22.76 23.70 22.76 23.70 22.76 23.70 22.76 23.70 22.76 23.70 22.76 23.70 22.76 23.70 22.76 23.70 22.76 23.70 22.76 23.70 22.76 19.60 15.42 19.00 22.64 22.20 22.64 22.20 22.64 22.20 22.64 22.20 22.64 19.00 15.42 19.60 22.76 23.70 22.76 23.70 22.76 23.70 22.76 23.70 22.76 23.70 22.76 23.70 22.76 23.70 22.76 23.70 22.76 23.70 22.76 23.70 22.76 23.70 22.76 23.70 22.76 19.60 15.42 8.00 1000.00"/>
<path d="M2548 3391.5H2772A20 20 0 0 1 2792 3411.5V4035.5A20 20 0 0 1 2772 4055.5H2548A20 20 0 0 1 2528 4035.5V3411.5A20 20 0 0 1 2548 3391.5" fill="none" stroke="#e8786e" stroke-width="7.9" stroke-dasharray="11.00 22.64 22.20 22.64 22.20 22.64 22.20 22.64 22.20 22.64 19.00 15.42 19.60 24.34 23.70 24.34 23.70 24.34 23.70 24.34 23.70 24.34 23.70 24.34 23.70 24.34 23.70 24.34 23.70 24.34 23.70 24.34 23.70 24.34 23.70 24.34 23.70 24.34 19.60 15.42 19.00 22.64 22.20 22.64 22.20 22.64 22.20 22.64 22.20 22.64 19.00 15.42 19.60 24.34 23.70 24.34 23.70 24.34 23.70 24.34 23.70 24.34 23.70 24.34 23.70 24.34 23.70 24.34 23.70 24.34 23.70 24.34 23.70 24.34 23.70 24.34 23.70 24.34 19.60 15.42 8.00 1000.00"/>
<g transform="translate(24.5 2052)" fill="none" stroke="#e8786e" stroke-width="7"><path d="M2783.5 544C2828 546 2868 600 2868 669C2868 724 2846 758 2819 791"/><path d="M2784.8 803.7L2814.3 770.4L2828.2 812.2Z" fill="#e8786e" stroke="none"/></g>
<g transform="translate(24.5 2723)" fill="none" stroke="#e8786e" stroke-width="7"><path d="M2783.5 544C2828 546 2868 600 2868 669C2868 724 2846 758 2819 791"/><path d="M2784.8 803.7L2814.3 770.4L2828.2 812.2Z" fill="#e8786e" stroke="none"/></g>
<path d="M2836 3047.6H2880.5V3030.5L2923 3068.5L2880.5 3106.5V3089.4H2836Z" fill="#808285"/>
<g filter="url(#pb1)" stroke="#4d4d4d" stroke-width="11.5"><use href="#planeF" transform="translate(2930 2715)"/><use href="#planeW" transform="translate(2930 2715)"/></g>
</g>
</svg>
</body></html>
